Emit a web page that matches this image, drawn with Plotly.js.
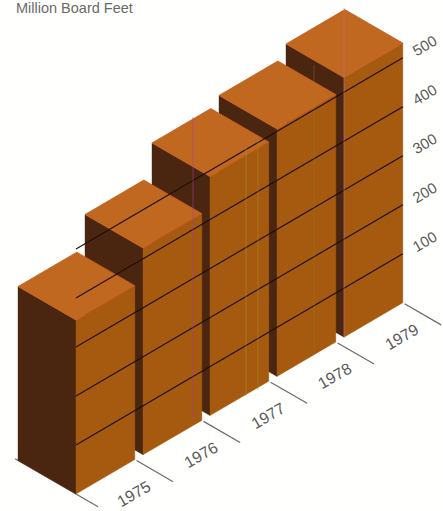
<!DOCTYPE html>
<html>
<head>
<meta charset="utf-8">
<script src="https://cdn.plot.ly/plotly-3.0.1.min.js"></script>
<style>html,body{margin:0;padding:0;background:#fffffd}#chart{width:443px;height:511px}</style>
</head>
<body>
<div id="chart"></div>
<script>
// Lumber output per year, million board feet
const years = ['1975', '1976', '1977', '1978', '1979'];
const output = [355, 422, 488, 505, 530];
const gridValues = [100, 200, 300, 400, 500];
const unitLabel = 'Million Board Feet';

// Isometric projection: year slot, depth into the page, value up
const BAR_SPAN = 0.878;
function project(slot, depth, value) {
  return [76 + 67 * slot - 58 * depth, 494 - 39.2 * slot - 33.5 * depth - 0.49 * value];
}

function poly(points, fill, edge) {
  const p = points.concat([points[0]]);
  return {
    x: p.map(q => q[0]), y: p.map(q => q[1]), mode: 'lines', fill: 'toself',
    fillcolor: fill, line: {color: edge || fill, width: edge ? 0.8 : 0.4},
    hoverinfo: 'skip', showlegend: false
  };
}

function line(a, b, color, width) {
  return {
    x: [a[0], b[0]], y: [a[1], b[1]], mode: 'lines',
    line: {color: color, width: width}, hoverinfo: 'skip', showlegend: false
  };
}

const traces = [];

// Baseline ticks sit under the bars
traces.push(line(project(0, 1.05, 0), project(0, -0.38, 0), '#6a6a66', 1.2));
for (let i = 0; i < years.length; i++) {
  traces.push(line(project(i + BAR_SPAN, -0.03, 0), project(i + BAR_SPAN, -0.66, 0), '#6a6a66', 1.2));
}

// Paint the blocks from the far one to the near one
for (let i = years.length - 1; i >= 0; i--) {
  const v = output[i], e = i + BAR_SPAN;
  traces.push(poly([project(i, 0, 0), project(i, 1, 0), project(i, 1, v), project(i, 0, v)], '#4a2610'));
  traces.push(poly([project(i, 0, 0), project(e, 0, 0), project(e, 0, v), project(i, 0, v)], '#a65a10'));
  traces.push(poly([project(i, 0, v), project(e, 0, v), project(e, 1, v), project(i, 1, v)], '#c0681f', '#c85a20'));
}

// Value lines run across the whole stack
gridValues.forEach(v => {
  traces.push(line(project(0, 0, v), project(4 + BAR_SPAN, 0, v), '#1e1006', 1.2));
});

const annotations = [];
years.forEach((y, i) => {
  const p = project(i + 0.44, -0.5, 0);
  annotations.push({x: p[0], y: p[1], text: y, showarrow: false, textangle: -30,
    xanchor: 'center', yanchor: 'middle', font: {family: 'Liberation Sans', size: 16, color: '#5a5a5a'}});
});
gridValues.forEach(v => {
  const p = project(5.2, 0, v);
  annotations.push({x: p[0], y: p[1], text: String(v), showarrow: false, textangle: -30,
    xanchor: 'center', yanchor: 'middle', font: {family: 'Liberation Sans', size: 15, color: '#5a5a5a'}});
});
annotations.push({x: 14, y: 8, text: unitLabel, showarrow: false, xanchor: 'left', yanchor: 'middle',
  font: {family: 'Liberation Sans', size: 14.5, color: '#6a6a6a'}});

// Faint vertical ink streaks across the printed blocks
const streak = (x, y0, y1, color, op) => ({type: 'line', xref: 'x', yref: 'y', x0: x, x1: x, y0: y0, y1: y1,
  line: {color: color, width: 1.2}, opacity: op, layer: 'above'});
const shapes = [
  streak(193, 117, 421, '#a0409c', 0.45),
  streak(246, 148, 396, '#a89a20', 0.4),
  streak(258, 140, 390, '#a89a20', 0.35),
  streak(314, 65, 352, '#8a8a20', 0.3),
  streak(344, 8, 337, '#c070a0', 0.45)
];

Plotly.newPlot('chart', traces, {
  width: 443, height: 511,
  margin: {l: 0, r: 0, t: 0, b: 0},
  paper_bgcolor: '#fffffd', plot_bgcolor: '#fffffd',
  showlegend: false,
  xaxis: {range: [0, 443], visible: false, fixedrange: true},
  yaxis: {range: [511, 0], visible: false, fixedrange: true},
  annotations: annotations,
  shapes: shapes
}, {displayModeBar: false, staticPlot: true});
</script>
</body>
</html>
